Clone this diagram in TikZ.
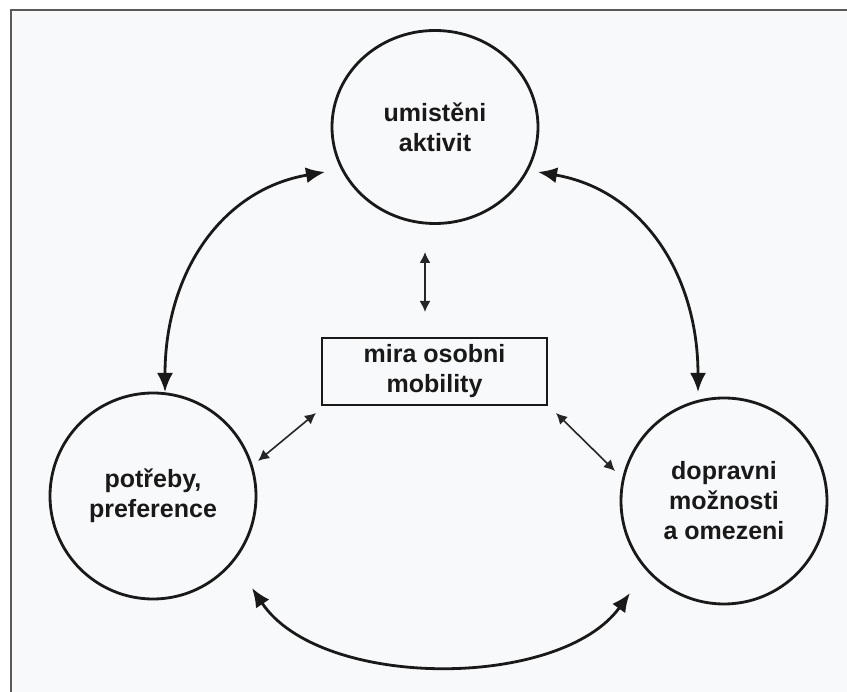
\documentclass[tikz,border=0pt]{standalone}
\usepackage{fontspec}
\setmainfont{Liberation Sans}
\usetikzlibrary{arrows.meta,shapes.geometric}
\definecolor{bgpanel}{HTML}{F8F9FB}
\definecolor{framegray}{HTML}{5A5A5A}
\tikzset{
  lbl/.style={font=\fontsize{25}{30}\selectfont\bfseries, align=center, text=black!90},
  bubble/.style={draw=black!90, line width=2.8pt, circle, minimum size=206pt, inner sep=0pt},
  bigarc/.style={line width=2.8pt, draw=black!90, {Latex[length=19pt,width=16pt]}-{Latex[length=19pt,width=16pt]}},
  smallarr/.style={line width=1.6pt, draw=black!85, {Latex[length=11pt,width=11pt]}-{Latex[length=11pt,width=11pt]}}
}
\begin{document}
\begin{tikzpicture}[x=1pt,y=-1pt]
\useasboundingbox (0,0) rectangle (847,692);
\fill[white] (0,0) rectangle (847,692);
\fill[bgpanel] (11,10) rectangle (847,692);
\draw[framegray, line width=1.5pt] (11,692) -- (11,10) -- (847,10);

\node[lbl, draw=black!90, line width=2.8pt, ellipse, minimum width=206pt, minimum height=193pt, inner sep=0pt] (top) at (435,127) {umistěni\\aktivit};
\node[lbl, bubble] (left) at (153,496) {potřeby,\\preference};
\node[lbl, bubble] (right) at (724,501) {dopravni\\možnosti\\a omezeni};
\node[lbl, draw=black!90, line width=2.5pt, minimum width=225pt, minimum height=67pt, inner sep=0pt] (box) at (434.5,371.5) {mira osobni\\mobility};

\coordinate (tA) at (325,172);
\coordinate (lA) at (165,392);
\coordinate (tB) at (538,172);
\coordinate (rB) at (698,392);
\coordinate (lC) at (252,588);
\coordinate (rC) at (630,593);

\draw[bigarc] (tA) .. controls (220,190) and (165,275) .. (lA);
\draw[bigarc] (tB) .. controls (643,190) and (698,275) .. (rB);
\draw[bigarc] (lC) .. controls (320,690) and (560,690) .. (rC);

\coordinate (v1) at (425,252);
\coordinate (v2) at (425,312);
\coordinate (d1) at (258,461);
\coordinate (d2) at (316,413);
\coordinate (e1) at (556,413);
\coordinate (e2) at (615,471);
\draw[smallarr] (v1) -- (v2);
\draw[smallarr] (d1) -- (d2);
\draw[smallarr] (e1) -- (e2);
\end{tikzpicture}
\end{document}
